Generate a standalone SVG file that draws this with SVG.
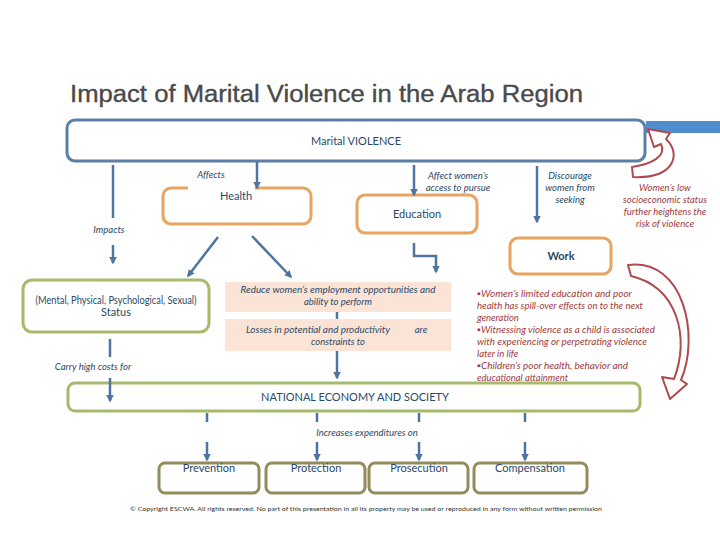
<svg xmlns="http://www.w3.org/2000/svg" width="720" height="540" viewBox="0 0 720 540">
<defs>
<marker id="ah" viewBox="0 0 10 10" refX="8" refY="5" markerWidth="3" markerHeight="3" orient="auto" markerUnits="strokeWidth"><path d="M0,0 L10,5 L0,10 z" fill="#4F74A0"/></marker>
<style>
.t{font-family:Lato,"Liberation Sans",sans-serif;}
.title{font-family:"Liberation Sans",Arial,sans-serif;font-size:23px;fill:#4a4a4a;stroke:#4a4a4a;stroke-width:0.35;}
.lbl{font-size:11px;fill:#2B4866;text-anchor:middle;}
.it{font-size:9.5px;font-style:italic;fill:#2B4866;text-anchor:middle;}
.red{font-size:9.5px;font-style:italic;fill:#A0393C;}
.blue{fill:none;stroke:#5B7FA6;stroke-width:3;}
.orange{fill:#fff;stroke:#E8A461;stroke-width:3;}
.green{fill:#fff;stroke:#A5BA6C;stroke-width:3;}
.olive{fill:#fff;stroke:#948B5C;stroke-width:3;}
.peach{fill:#FBE4D5;}
.c{fill:none;stroke:#4F74A0;stroke-width:2.5;}
.ca{fill:none;stroke:#4F74A0;stroke-width:2.5;marker-end:url(#ah);}
.rarrow{fill:#fff;stroke:#B04A4D;stroke-width:2;stroke-linejoin:round;}
</style>
</defs>
<rect width="720" height="540" fill="#fff"/>
<rect x="646" y="121" width="74" height="12" fill="#4F8DD0"/>
<text class="title" x="70" y="102" textLength="513" lengthAdjust="spacingAndGlyphs">Impact of Marital Violence in the Arab Region</text>

<g id="marital">
<rect class="blue" x="67" y="120" width="578" height="41" rx="8"/>
<text class="t lbl" x="356" y="145">Marital VIOLENCE</text>
</g>

<g id="health">
<path class="orange" fill="none" d="M188,188 H171 A8,8 0 0 0 163,196 V216 A8,8 0 0 0 171,224 H303 A8,8 0 0 0 311,216 V196 A8,8 0 0 0 303,188 H255"/>
<text class="t lbl" x="236" y="200">Health</text>
</g>

<g id="education">
<rect class="orange" x="357" y="195" width="120" height="38" rx="8"/>
<text class="t lbl" x="417" y="218">Education</text>
</g>

<g id="work">
<rect class="orange" x="510" y="238" width="101" height="36" rx="8"/>
<text class="t lbl" x="561" y="260" font-weight="bold">Work</text>
</g>

<g id="status">
<rect class="green" x="23" y="280" width="186" height="52" rx="9"/>
<text class="t lbl" x="116" y="304" font-size="9.5" textLength="161" lengthAdjust="spacingAndGlyphs">(Mental, Physical, Psychological, Sexual)</text>
<text class="t lbl" x="116" y="316" font-size="9.5">Status</text>
</g>

<g id="reduce">
<rect class="peach" x="225" y="282" width="226" height="30"/>
<text class="t it" x="338" y="293" textLength="195" lengthAdjust="spacingAndGlyphs">Reduce women’s employment opportunities and</text>
<text class="t it" x="338" y="305">ability to perform</text>
</g>

<g id="losses">
<rect class="peach" x="225" y="319" width="226" height="32"/>
<text class="t it" x="318" y="333" textLength="144" lengthAdjust="spacingAndGlyphs">Losses in potential and productivity</text>
<text class="t it" x="421" y="333">are</text>
<text class="t it" x="338" y="345">constraints to</text>
</g>

<g id="national">
<rect class="green" x="68" y="383" width="572" height="28" rx="7"/>
<text class="t lbl" x="355" y="401" font-size="10">NATIONAL ECONOMY AND SOCIETY</text>
</g>

<g id="prevention">
<rect class="olive" x="159" y="463" width="100" height="30" rx="6"/>
<text class="t lbl" x="209" y="472">Prevention</text>
</g>
<g id="protection">
<rect class="olive" x="266" y="463" width="99" height="30" rx="6"/>
<text class="t lbl" x="316" y="472">Protection</text>
</g>
<g id="prosecution">
<rect class="olive" x="369" y="463" width="99" height="30" rx="6"/>
<text class="t lbl" x="419" y="472">Prosecution</text>
</g>
<g id="compensation">
<rect class="olive" x="474" y="463" width="113" height="30" rx="6"/>
<text class="t lbl" x="530" y="472">Compensation</text>
</g>

<g id="connectors">
<line class="c" x1="113" y1="165" x2="113" y2="218"/>
<line class="ca" x1="113" y1="245" x2="113" y2="263"/>
<line class="ca" x1="257" y1="162" x2="257" y2="188"/>
<line class="ca" x1="414" y1="165" x2="414" y2="195"/>
<line class="ca" x1="537" y1="166" x2="537" y2="222"/>
<line class="ca" x1="218" y1="237" x2="188" y2="276"/>
<line class="ca" x1="252" y1="236" x2="291" y2="277"/>
<path class="ca" d="M414,243 V256 H436 V272"/>
<line class="c" x1="337" y1="312" x2="337" y2="319"/>
<line class="ca" x1="337" y1="351" x2="337" y2="378"/>
<line class="c" x1="110" y1="339" x2="110" y2="357"/>
<line class="ca" x1="110" y1="378" x2="110" y2="401"/>
<line class="c" x1="207" y1="413" x2="207" y2="422"/>
<line class="c" x1="317" y1="413" x2="317" y2="422"/>
<line class="c" x1="419" y1="413" x2="419" y2="422"/>
<line class="c" x1="525" y1="413" x2="525" y2="422"/>
<line class="ca" x1="207" y1="442" x2="207" y2="460"/>
<line class="ca" x1="317" y1="442" x2="317" y2="460"/>
<line class="ca" x1="419" y1="442" x2="419" y2="460"/>
<line class="ca" x1="525" y1="442" x2="525" y2="460"/>
<path class="rarrow" d="M633,177 L632,167 C652,164 667,156 661,144 L654,147 L648,129 L670,133 L666,139 C682,154 674,179 633,177 Z"/>
<path class="rarrow" d="M628,265 C684,258 700,336 681,380 L687,384 L670,399 L662,377 L674,379 C690,338 678,287 631,276 Z"/>
</g>

<g id="labels">
<text class="t it" x="211" y="178">Affects</text>
<text class="t it" x="458" y="179">Affect women’s</text>
<text class="t it" x="458" y="191">access to pursue</text>
<text class="t it" x="570" y="179">Discourage</text>
<text class="t it" x="570" y="191">women from</text>
<text class="t it" x="570" y="203">seeking</text>
<text class="t it" x="109" y="233">Impacts</text>
<text class="t it" x="93" y="370">Carry high costs for</text>
<text class="t it" x="367" y="436">Increases expenditures on</text>
<text class="t red" x="665" y="191" text-anchor="middle">Women’s low</text>
<text class="t red" x="665" y="203" text-anchor="middle">socioeconomic status</text>
<text class="t red" x="665" y="215" text-anchor="middle">further heightens the</text>
<text class="t red" x="665" y="227" text-anchor="middle">risk of violence</text>
<text class="t red" x="477" y="297" textLength="155" lengthAdjust="spacingAndGlyphs">▪Women’s limited education and poor</text>
<text class="t red" x="477" y="309" textLength="166" lengthAdjust="spacingAndGlyphs">health has spill-over effects on to the next</text>
<text class="t red" x="477" y="321">generation</text>
<text class="t red" x="477" y="333" textLength="178" lengthAdjust="spacingAndGlyphs">▪Witnessing violence as a child is associated</text>
<text class="t red" x="477" y="345" textLength="170" lengthAdjust="spacingAndGlyphs">with experiencing or perpetrating violence</text>
<text class="t red" x="477" y="357">later in life</text>
<text class="t red" x="477" y="369" textLength="151" lengthAdjust="spacingAndGlyphs">▪Children’s poor health, behavior and</text>
<text class="t red" x="477" y="381" textLength="91" lengthAdjust="spacingAndGlyphs">educational attainment</text>
<text class="t" x="130" y="511" font-size="5.5" fill="#333" textLength="472" lengthAdjust="spacingAndGlyphs">© Copyright ESCWA. All rights reserved. No part of this presentation in all its property may be used or reproduced in any form without written permission</text>
</g>
</svg>
